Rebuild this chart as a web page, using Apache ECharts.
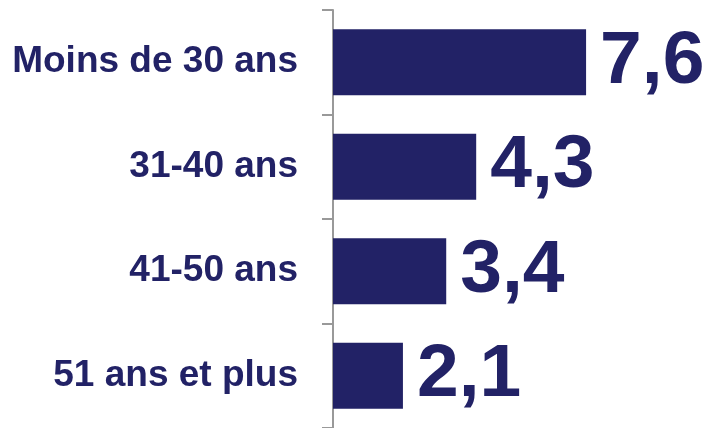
<!DOCTYPE html>
<html>
<head>
<meta charset="utf-8">
<script src="https://cdn.jsdelivr.net/npm/echarts@6/dist/echarts.min.js"></script>
<style>
  html, body { margin: 0; padding: 0; background: #fff; }
  #chart { width: 707px; height: 428px; }
</style>
</head>
<body>
<div id="chart"></div>
<script>
  const categories = ['Moins de 30 ans', '31-40 ans', '41-50 ans', '51 ans et plus']
  const values = [7.6, 4.3, 3.4, 2.1]

  const NAVY = '#222266'
  const chart = echarts.init(document.getElementById('chart'))
  const option = {
    animation: false,
    grid: { // axe vertical à x=333
      left: 333,
      right: 41,
      top: 10,
      bottom: -3
    },
    xAxis: {
      type: 'value',
      min: 0,
      max: 10,
      show: false
    },
    yAxis: {
      type: 'category',
      inverse: true,
      data: categories,
      axisLine: {
        show: true,
        lineStyle: { color: '#999999', width: 2 }
      },
      axisTick: {
        show: true,
        length: 11,
        lineStyle: { color: '#999999', width: 2 }
      },
      axisLabel: {
        margin: 35,
        color: NAVY,
        fontFamily: 'Liberation Sans, Arial, sans-serif',
        fontWeight: 'bold',
        fontSize: 37
      }
    },
    series: [{
      type: 'bar',
      data: values,
      barWidth: 66,
      itemStyle: { color: NAVY },
      label: {
        show: true,
        position: 'right',
        distance: 14,
        color: NAVY,
        fontFamily: 'Liberation Sans, Arial, sans-serif',
        fontWeight: 'bold',
        fontSize: 75,
        formatter: p => String(p.value).replace('.', ',')
      }
    }]
  }
  chart.setOption(option)
</script>
</body>
</html>
